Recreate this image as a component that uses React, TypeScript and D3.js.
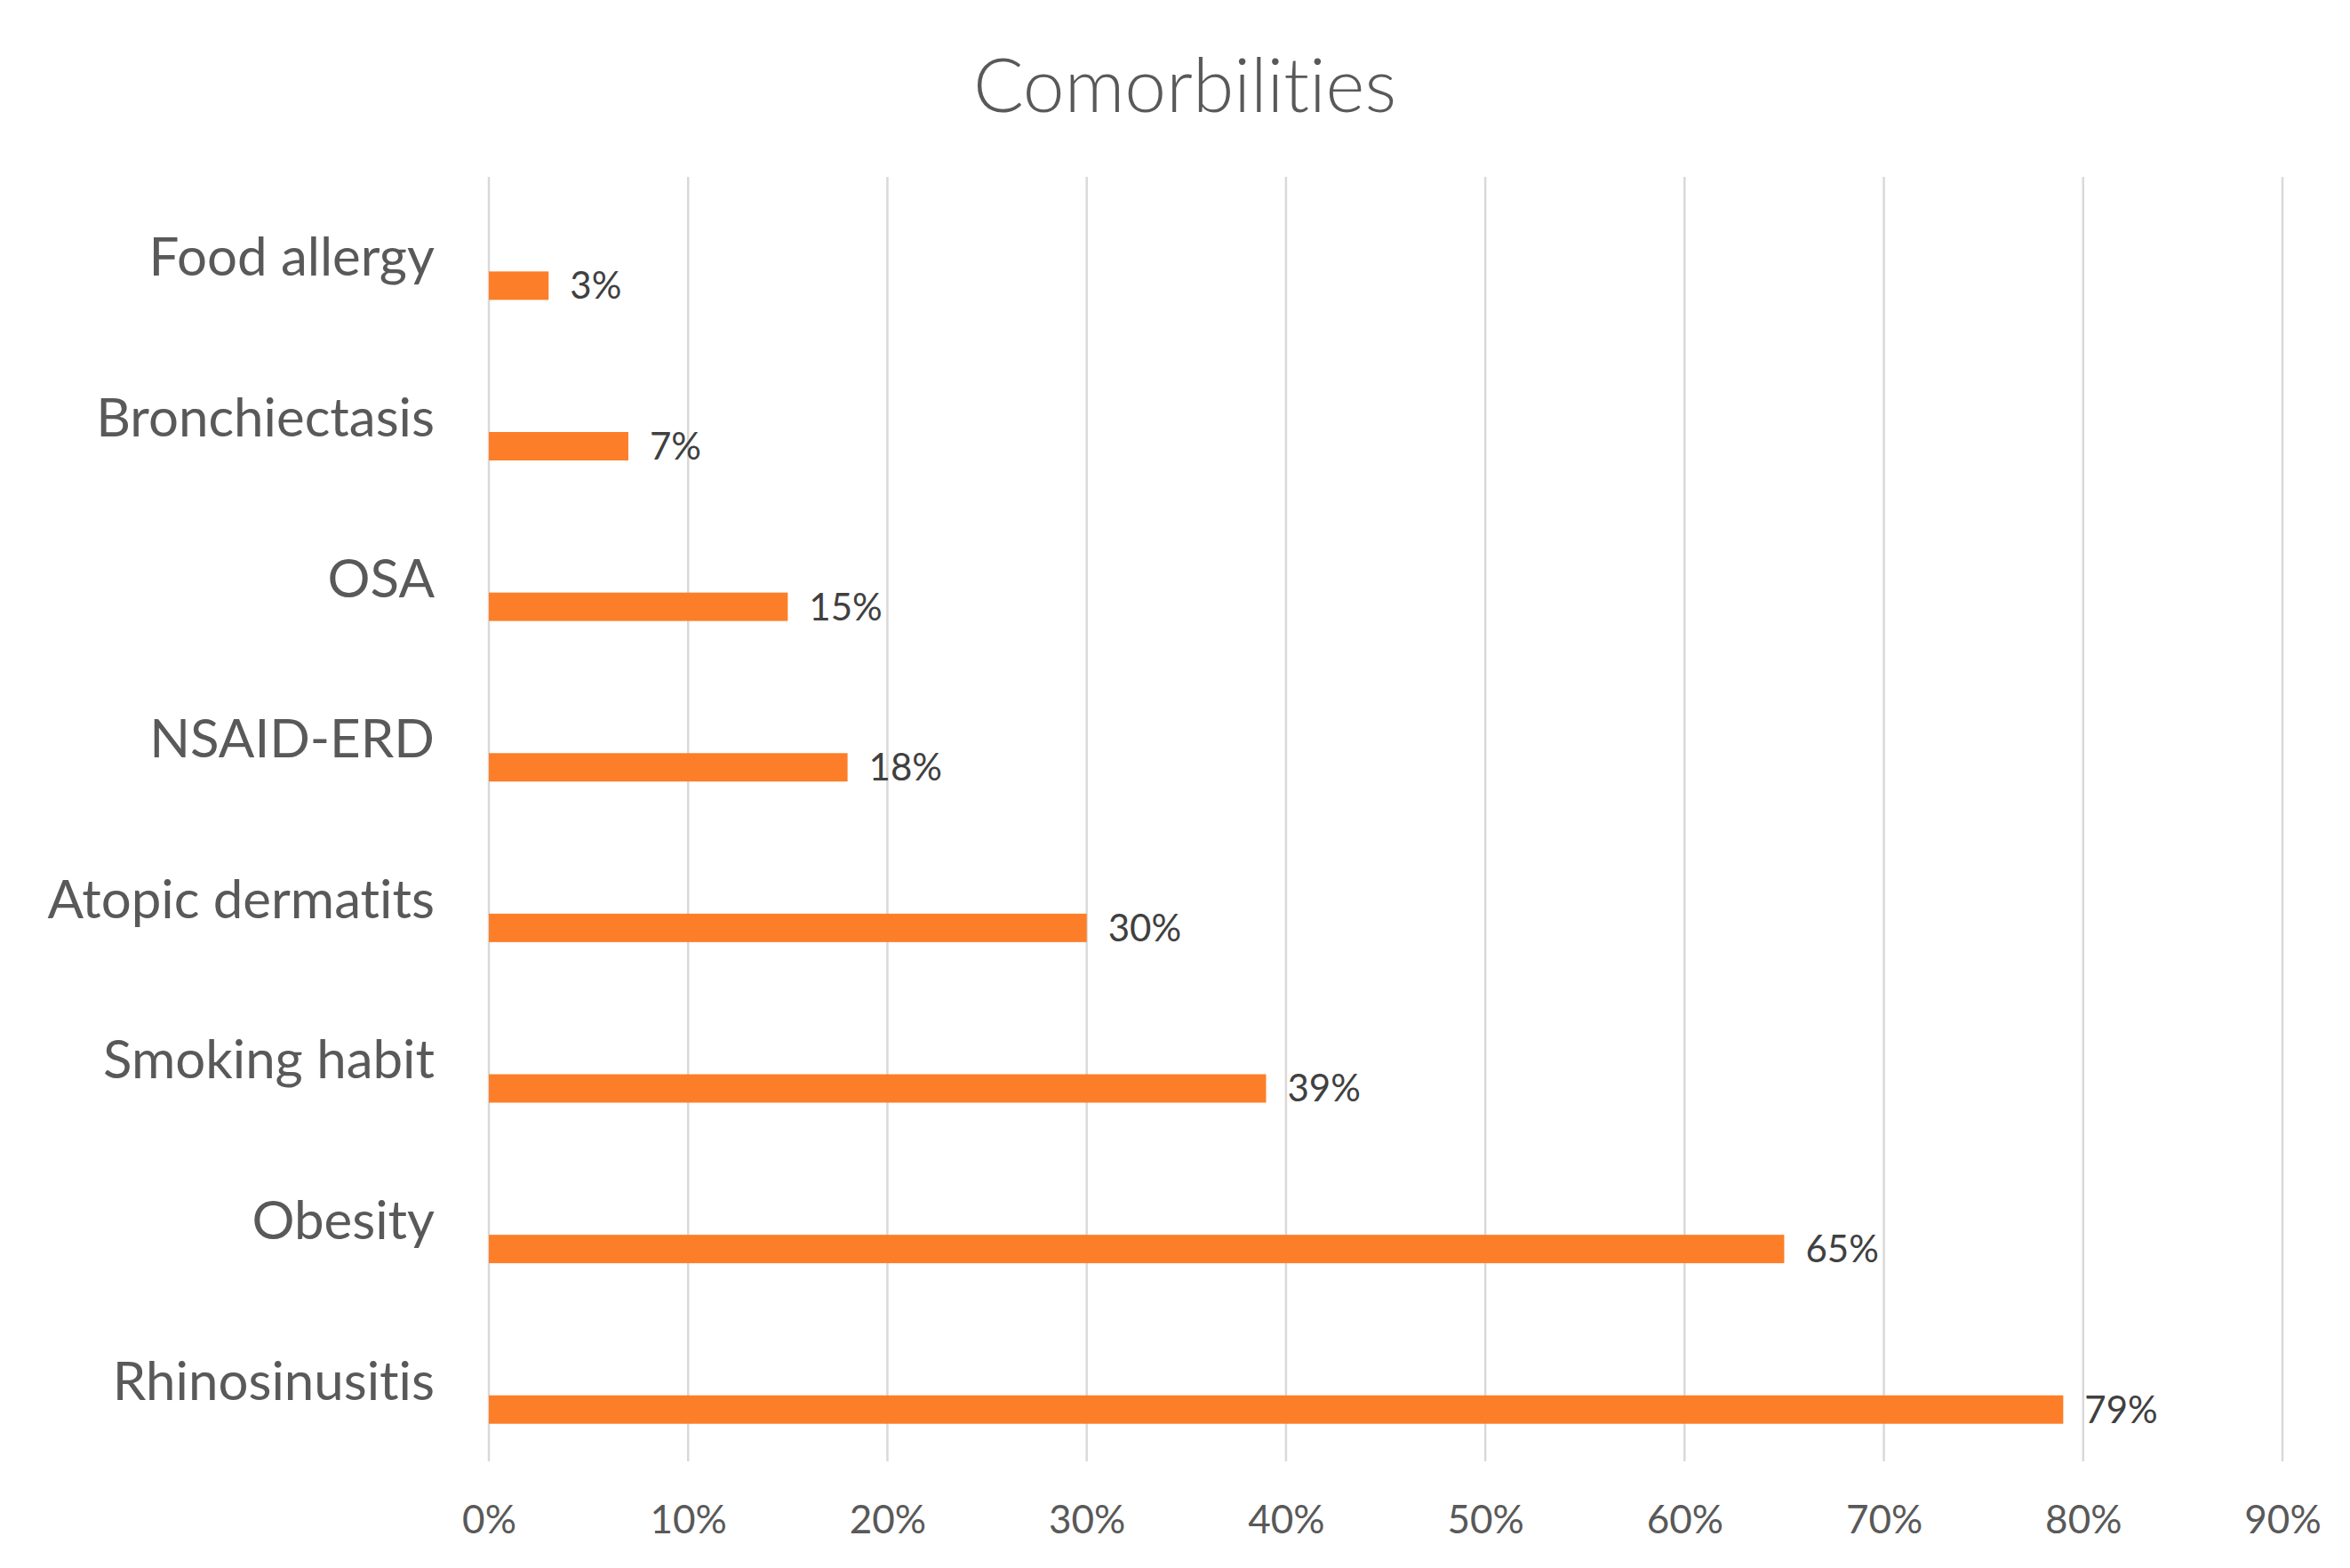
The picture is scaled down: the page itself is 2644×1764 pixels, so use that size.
import * as d3 from 'd3';
import React, { useEffect, useRef } from 'react';

// categories listed top to bottom, as they appear on the chart
const categories = [
	'Food allergy',
	'Bronchiectasis',
	'OSA',
	'NSAID-ERD',
	'Atopic dermatits',
	'Smoking habit',
	'Obesity',
	'Rhinosinusitis',
];
const shares = [0.03, 0.07, 0.15, 0.18, 0.30, 0.39, 0.65, 0.79];
const tickValues = [0, 0.1, 0.2, 0.3, 0.4, 0.5, 0.6, 0.7, 0.8, 0.9];
const title = 'Comorbilities';

const font = 'Lato, Calibri, "Open Sans", sans-serif';

export default function App(): React.JSX.Element {
	const chartRef = useRef<SVGSVGElement | null>(null);

	useEffect(() => {
		document.body.style.margin = '0';
		if (chartRef.current === null) return;
		d3.select(chartRef.current).selectAll('*').remove();

		const width = 2644;
		const height = 1764;
		const margin = { top: 199, right: 76, bottom: 120, left: 550 };

		const svg = d3.select(chartRef.current)
			.attr('width', width)
			.attr('height', height)
			.style('font-variant-ligatures', 'none');

		svg.append('rect')
			.attr('width', width)
			.attr('height', height)
			.attr('fill', '#ffffff');

		const xScale = d3.scaleLinear()
			.domain([0, 0.9])
			.range([margin.left, width - margin.right]);

		const yScale = d3.scaleBand()
			.domain(categories)
			.range([margin.top, height - margin.bottom]);

		const bw = yScale.bandwidth();
		const rows = categories.map((name, i) => ({ name, value: shares[i] }));

		svg.append('text')
			.attr('x', 1333)
			.attr('y', 126)
			.attr('text-anchor', 'middle')
			.attr('font-family', font)
			.attr('font-weight', 300)
			.attr('font-size', 84)
			.attr('fill', '#595959')
			.text(title);

		// vertical gridlines
		svg.append('g')
			.selectAll('line')
			.data(tickValues)
			.enter()
			.append('line')
			.attr('x1', (d) => xScale(d))
			.attr('x2', (d) => xScale(d))
			.attr('y1', margin.top)
			.attr('y2', height - margin.bottom)
			.attr('stroke', '#d9d9d9')
			.attr('stroke-width', 2.5);

		// x axis labels
		const xAxis = svg.append('g')
			.attr('transform', `translate(0, ${height - margin.bottom})`)
			.call(d3.axisBottom(xScale)
				.tickValues(tickValues)
				.tickFormat((d) => d3.format('.0%')(d as number))
				.tickSize(0)
				.tickPadding(0));
		xAxis.select('.domain').remove();
		xAxis.selectAll('text')
			.attr('dy', null)
			.attr('y', 81)
			.attr('font-family', font)
			.attr('font-size', 44)
			.attr('fill', '#595959');

		// category labels
		const yAxis = svg.append('g')
			.attr('transform', `translate(${margin.left}, 0)`)
			.call(d3.axisLeft(yScale).tickSize(0).tickPadding(61));
		yAxis.select('.domain').remove();
		yAxis.selectAll('text')
			.attr('dy', 21)
			.attr('font-family', font)
			.attr('font-size', 60)
			.attr('fill', '#595959');

		svg.append('g')
			.selectAll('rect')
			.data(rows)
			.enter()
			.append('rect')
			.attr('x', xScale(0))
			.attr('y', (r) => (yScale(r.name) ?? 0) + bw * 0.589)
			.attr('width', (r) => xScale(r.value) - xScale(0))
			.attr('height', bw * 0.177)
			.attr('fill', '#fd7e28');

		svg.append('g')
			.selectAll('text')
			.data(rows)
			.enter()
			.append('text')
			.attr('x', (r) => xScale(r.value) + 24)
			.attr('y', (r) => (yScale(r.name) ?? 0) + bw * 0.6775 + 15)
			.attr('font-family', font)
			.attr('font-size', 42)
			.attr('fill', '#404040')
			.text((r) => d3.format('.0%')(r.value));
	}, []);

	return (
		<svg ref={chartRef} style={{ display: 'block' }} />
	);
}
